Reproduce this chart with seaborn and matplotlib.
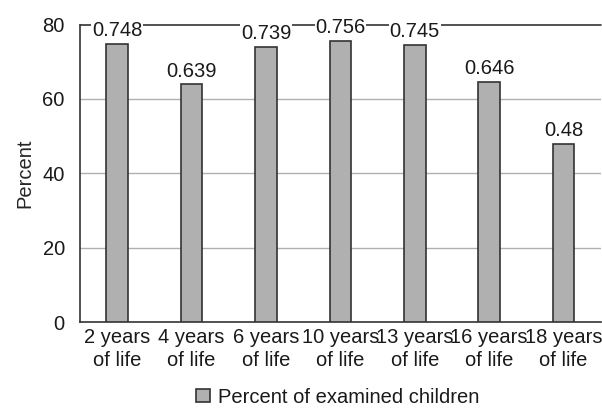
import matplotlib
matplotlib.use("Agg")
import matplotlib.pyplot as plt
import seaborn as sns
import pandas as pd

# data
ages = ["2 years\nof life", "4 years\nof life", "6 years\nof life", "10 years\nof life",
        "13 years\nof life", "16 years\nof life", "18 years\nof life"]
percent = [74.8, 63.9, 73.9, 75.6, 74.5, 64.6, 48.0]
series_name = "Percent of examined children"

sns.set_style("white")
# no condensed face installed, Liberation Sans is the narrowest close match
plt.rcParams['font.family'] = ['Liberation Sans', 'DejaVu Sans']
plt.rcParams['text.color'] = '#1a1a1a'
plt.rcParams['xtick.color'] = '#1a1a1a'
plt.rcParams['ytick.color'] = '#1a1a1a'

data = pd.DataFrame({"age": ages, "percent": percent, "series": series_name})

fig, ax = plt.subplots(figsize=(6.02, 4.12), dpi=100)
sns.barplot(data=data, x="age", y="percent", hue="series", palette=["#b0b0b0"],
            edgecolor="#333333", linewidth=1.2, width=0.29, ax=ax, zorder=3, legend=True)

ax.set_ylim(0, 80)
ax.set_yticks([0, 20, 40, 60, 80])
ax.set_xlim(-0.5, len(ages) - 0.5)
# gridlines: gray inside, dark on top
for yv in [20, 40, 60]:
    ax.axhline(yv, color="#b0b0b0", linewidth=1, zorder=1)
ax.axhline(80, color="#333333", linewidth=1.2, zorder=1, clip_on=False)

# value labels as fractions
for i, v in enumerate(percent):
    ax.text(i, v + 1.0, f"{v/100:g}", ha="center", va="bottom", fontsize=14.5,
            bbox=dict(facecolor="white", edgecolor="none", pad=0.5), zorder=4)

# ticks at category boundaries
ax.set_xticks(range(len(ages)))
ax.set_xticklabels(ages, fontsize=14.5, linespacing=1.3)
ax.tick_params(axis="x", length=0, pad=4)
ax.set_xticks([i - 0.5 for i in range(len(ages) + 1)], minor=True)
ax.tick_params(axis="x", which="minor", length=5, width=1, color="#333333", direction="out")
ax.tick_params(axis="y", length=9, width=1, color="#333333", direction="out", labelsize=14.5, pad=2)

for s in ["top", "right"]:
    ax.spines[s].set_visible(False)
for s in ["left", "bottom"]:
    ax.spines[s].set_color("#333333")
    ax.spines[s].set_linewidth(1.2)

ax.set_xlabel("")
ax.set_ylabel("Percent", fontsize=14.5, labelpad=6)

handles, labels = ax.get_legend_handles_labels()
ax.get_legend().remove()
fig.legend(handles, labels, loc="center", bbox_to_anchor=(0.561, 0.036), frameon=False,
           fontsize=14.5, handlelength=0.65, handleheight=0.65, handletextpad=0.4, borderpad=0)

fig.subplots_adjust(left=0.133, right=0.998, top=0.9405, bottom=0.2184)
fig.savefig("out.png", dpi=100)
